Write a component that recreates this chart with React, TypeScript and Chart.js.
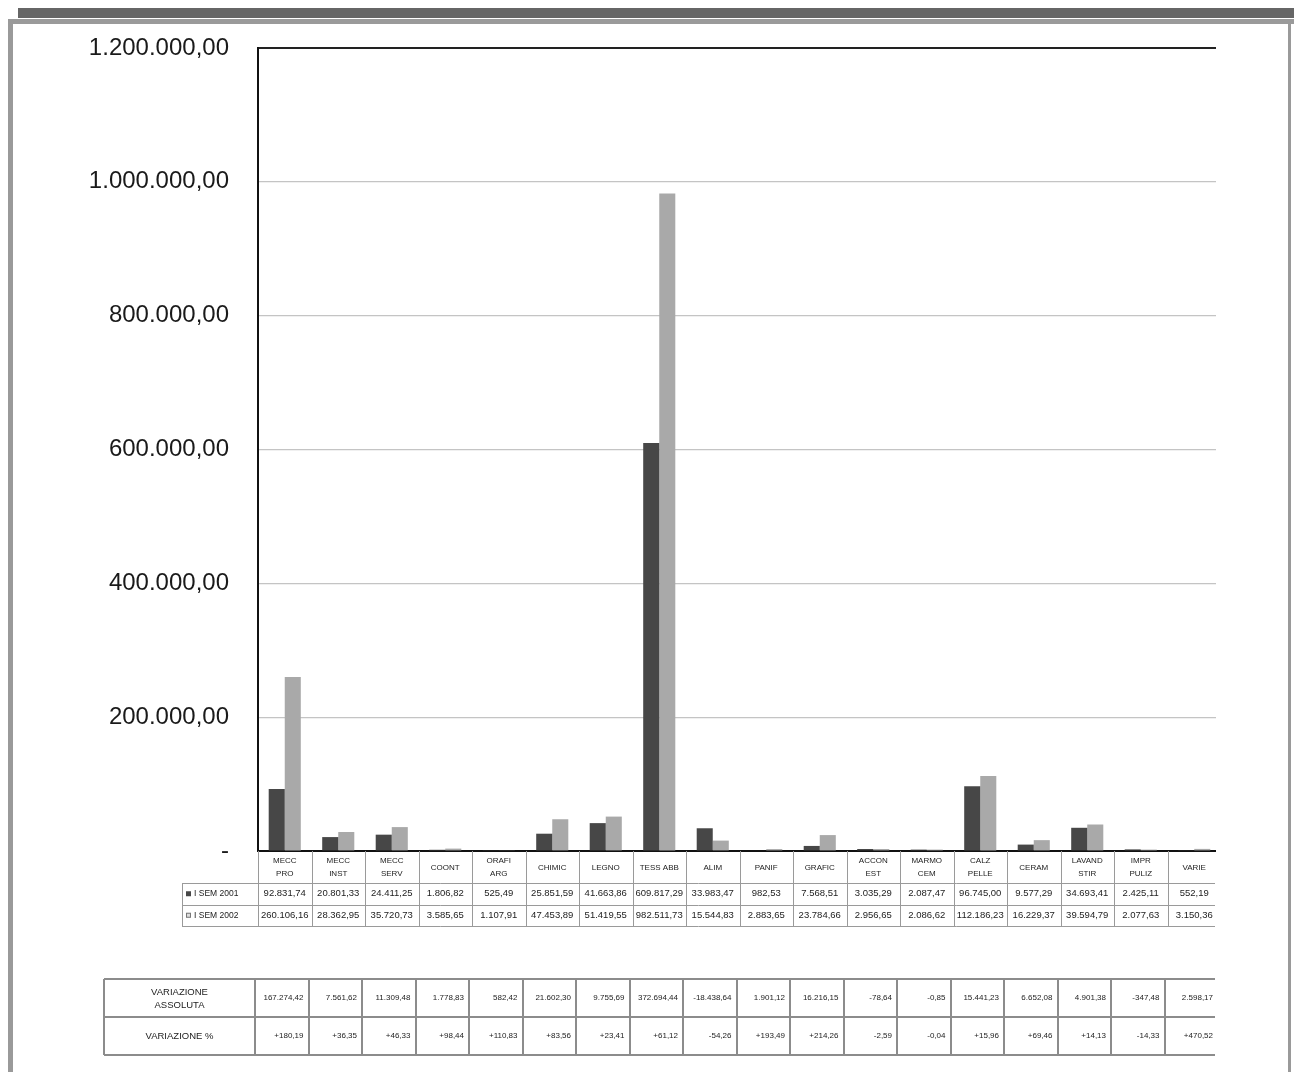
import React, { useEffect, useRef } from "react";
import { Chart, registerables } from "chart.js";

Chart.register(...registerables);

const categories: string[][] = [
  ["MECC", "PRO"], ["MECC", "INST"], ["MECC", "SERV"], ["COONT"], ["ORAFI", "ARG"],
  ["CHIMIC"], ["LEGNO"], ["TESS ABB"], ["ALIM"], ["PANIF"], ["GRAFIC"],
  ["ACCON", "EST"], ["MARMO", "CEM"], ["CALZ", "PELLE"], ["CERAM"],
  ["LAVAND", "STIR"], ["IMPR", "PULIZ"], ["VARIE"],
];

const sem2001 = [
  92831.74, 20801.33, 24411.25, 1806.82, 525.49, 25851.59, 41663.86, 609817.29,
  33983.47, 982.53, 7568.51, 3035.29, 2087.47, 96745.0, 9577.29, 34693.41, 2425.11, 552.19,
];

const sem2002 = [
  260106.16, 28362.95, 35720.73, 3585.65, 1107.91, 47453.89, 51419.55, 982511.73,
  15544.83, 2883.65, 23784.66, 2956.65, 2086.62, 112186.23, 16229.37, 39594.79, 2077.63, 3150.36,
];

const varAbs = [
  167274.42, 7561.62, 11309.48, 1778.83, 582.42, 21602.3, 9755.69, 372694.44,
  -18438.64, 1901.12, 16216.15, -78.64, -0.85, 15441.23, 6652.08, 4901.38, -347.48, 2598.17,
];

const varPct = [
  180.19, 36.35, 46.33, 98.44, 110.83, 83.56, 23.41, 61.12, -54.26, 193.49, 214.26,
  -2.59, -0.04, 15.96, 69.46, 14.13, -14.33, 470.52,
];

const seriesNames = ["I SEM 2001", "I SEM 2002"];
const yTicks = { min: 0, max: 1200000, step: 200000 };

const DARK = "#474747";
const LIGHT = "#a9a9a9";
const FONT = '"Liberation Sans", Arial, Helvetica, sans-serif';

function fmt(v: number, plus = false): string {
  const neg = v < 0;
  const s = Math.abs(v).toFixed(2);
  const [ip, dp] = s.split(".");
  const grouped = ip.replace(/\B(?=(\d{3})+(?!\d))/g, ".");
  return (neg ? "-" : plus ? "+" : "") + grouped + "," + dp;
}

const tablePlugin = {
  id: "tables",
  beforeDraw(chart: any) {
    const ctx = chart.ctx;
    ctx.save();
    ctx.fillStyle = "#ffffff";
    ctx.fillRect(0, 0, chart.width, chart.height);
    ctx.restore();
  },
  afterDraw(chart: any) {
    const ctx: CanvasRenderingContext2D = chart.ctx;
    const area = chart.chartArea;
    const xs = chart.scales.x;
    const n = categories.length;
    const cw = (area.right - area.left) / n;
    const edge = (i: number) => area.left + i * cw;
    const clipRight = 1215;

    ctx.save();
    // ---- data table under the axis ----
    const top = area.bottom;
    const r1 = top + 32;
    const r2 = top + 53.5;
    const r3 = top + 75;
    const legLeft = 182;
    ctx.strokeStyle = "#9a9a9a";
    ctx.lineWidth = 1;
    ctx.beginPath();
    for (let i = 0; i <= n; i++) {
      const x = Math.round(edge(i)) + 0.5;
      ctx.moveTo(x, top);
      ctx.lineTo(x, r3);
    }
    [r1, r2, r3].forEach((y) => {
      ctx.moveTo(legLeft, Math.round(y) + 0.5);
      ctx.lineTo(clipRight, Math.round(y) + 0.5);
    });
    ctx.moveTo(legLeft + 0.5, r1);
    ctx.lineTo(legLeft + 0.5, r3);
    ctx.stroke();

    ctx.fillStyle = "#222";
    ctx.textAlign = "center";
    ctx.textBaseline = "middle";
    ctx.font = `8px ${FONT}`;
    categories.forEach((lab, i) => {
      const cx = xs.getPixelForValue(i);
      if (lab.length === 2) {
        ctx.fillText(lab[0], cx, top + 10);
        ctx.fillText(lab[1], cx, top + 23);
      } else {
        ctx.fillText(lab[0], cx, top + 17);
      }
    });
    ctx.font = `9.5px ${FONT}`;
    const rowY1 = (r1 + r2) / 2;
    const rowY2 = (r2 + r3) / 2;
    for (let i = 0; i < n; i++) {
      const cx = xs.getPixelForValue(i);
      ctx.fillText(fmt(sem2001[i]), cx, rowY1);
      ctx.fillText(fmt(sem2002[i]), cx, rowY2);
    }
    // legend keys
    ctx.textAlign = "left";
    ctx.font = `8.5px ${FONT}`;
    ctx.fillStyle = DARK;
    ctx.fillRect(legLeft + 4, rowY1 - 2.5, 5, 5);
    ctx.fillStyle = "#ddd";
    ctx.fillRect(legLeft + 4, rowY2 - 2.5, 5, 5);
    ctx.strokeStyle = "#777";
    ctx.strokeRect(legLeft + 4.5, rowY2 - 2, 4, 4);
    ctx.fillStyle = "#222";
    ctx.fillText(seriesNames[0], legLeft + 12, rowY1);
    ctx.fillText(seriesNames[1], legLeft + 12, rowY2);

    // ---- variation table ----
    const t2Top = 979;
    const t2Mid = 1017;
    const t2Bot = 1055;
    const t2Left = 104;
    ctx.strokeStyle = "#8c8c8c";
    ctx.lineWidth = 2;
    ctx.beginPath();
    [t2Top, t2Mid, t2Bot].forEach((y) => {
      ctx.moveTo(t2Left, y);
      ctx.lineTo(clipRight, y);
    });
    ctx.moveTo(t2Left, t2Top);
    ctx.lineTo(t2Left, t2Bot);
    for (let i = 0; i < n; i++) {
      const x = Math.round(edge(i)) - 3;
      ctx.moveTo(x, t2Top);
      ctx.lineTo(x, t2Bot);
    }
    ctx.stroke();

    ctx.fillStyle = "#222";
    ctx.textAlign = "center";
    ctx.font = `9.5px ${FONT}`;
    const firstCx = (t2Left + edge(0) - 3) / 2;
    ctx.fillText("VARIAZIONE", firstCx, 992);
    ctx.fillText("ASSOLUTA", firstCx, 1005);
    ctx.fillText("VARIAZIONE %", firstCx, 1036);
    ctx.textAlign = "right";
    ctx.font = `8px ${FONT}`;
    for (let i = 0; i < n; i++) {
      const rx = edge(i + 1) - 8;
      ctx.fillText(fmt(varAbs[i]), rx, 998);
      ctx.fillText(fmt(varPct[i], true), rx, 1036);
    }

    // crop beyond the right edge of the scanned chart
    ctx.fillStyle = "#ffffff";
    ctx.fillRect(clipRight + 1, 24, 1288 - clipRight - 1, chart.height - 24);

    // ---- frame ----
    ctx.fillStyle = "#666666";
    ctx.fillRect(18, 8, chart.width - 18, 10);
    ctx.fillStyle = "#9a9a9a";
    ctx.fillRect(8, 19, chart.width - 8, 5);
    ctx.fillRect(8, 19, 5, chart.height - 19);
    ctx.fillRect(1288, 19, 3, chart.height - 19);
    ctx.restore();
  },
};

export default function App() {
  const ref = useRef<HTMLCanvasElement | null>(null);
  useEffect(() => {
    if (!ref.current) return;
    const chart = new Chart(ref.current, {
      type: "bar",
      data: {
        labels: categories,
        datasets: [
          { label: seriesNames[0], data: sem2001, backgroundColor: DARK, categoryPercentage: 0.6, barPercentage: 1.0 },
          { label: seriesNames[1], data: sem2002, backgroundColor: LIGHT, categoryPercentage: 0.6, barPercentage: 1.0 },
        ],
      },
      options: {
        animation: false,
        responsive: true,
        maintainAspectRatio: false,
        layout: { padding: { left: 10, right: 73, top: 48, bottom: 221 } },
        plugins: { legend: { display: false }, tooltip: { enabled: false } },
        scales: {
          x: {
            grid: { display: false, drawTicks: false },
            border: { display: true, color: "#111", width: 2 },
            ticks: { display: false },
            afterFit: (s: any) => { s.height = 0; },
          },
          y: {
            min: yTicks.min,
            max: yTicks.max,
            afterFit: (s: any) => { s.width = 248; },
            border: { display: true, color: "#111", width: 2 },
            grid: {
              drawTicks: false,
              color: (c: any) => (c.tick && c.tick.value === yTicks.max ? "#222" : "#c4c4c4"),
              lineWidth: (c: any) => (c.tick && c.tick.value === yTicks.max ? 2 : 1.2),
            },
            ticks: {
              stepSize: yTicks.step,
              padding: 29,
              color: "#1a1a1a",
              font: { family: FONT, size: 24 },
              callback: (v: any) => (Number(v) === 0 ? "-" : fmt(Number(v))),
            },
          },
        },
      },
      plugins: [tablePlugin],
    });
    return () => chart.destroy();
  }, []);
  return (
    <div style={{ position: "absolute", left: 0, top: 0, width: 1294, height: 1072 }}>
      <canvas ref={ref} style={{ width: "100%", height: "100%" }} />
    </div>
  );
}
